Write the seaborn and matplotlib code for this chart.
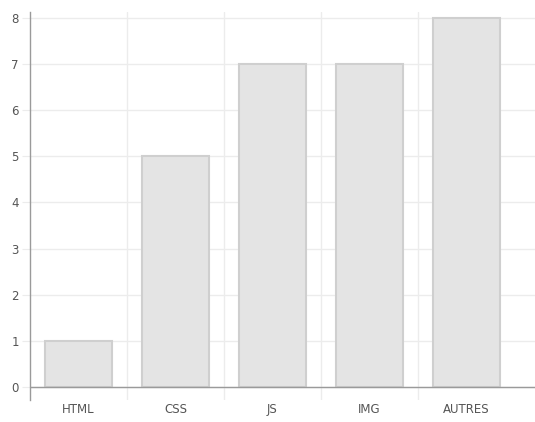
import matplotlib
matplotlib.use('Agg')
import matplotlib.pyplot as plt
import seaborn as sns
import pandas as pd

# Data
categories = ['HTML', 'CSS', 'JS', 'IMG', 'AUTRES']
values = [1, 5, 7, 7, 8]
y_ticks = [0, 1, 2, 3, 4, 5, 6, 7, 8]

df = pd.DataFrame({'type': categories, 'count': values})

sns.set_style('white')
plt.rcParams['font.family'] = ['DejaVu Sans']

fig = plt.figure(figsize=(5.35, 4.22), dpi=100)
ax = fig.add_axes([30 / 535, 1 - 400 / 422, 505 / 535, 388 / 422])

sns.barplot(data=df, x='type', y='count', color='#e4e4e4', saturation=1,
            edgecolor='#cfcfcf', linewidth=1.5, width=0.7, ax=ax, zorder=3)

# horizontal grid at each integer
for t in y_ticks:
    ax.axhline(t, color='#ececec', lw=1, zorder=1)
# vertical separators between categories
for b in [0.5, 1.5, 2.5, 3.5]:
    ax.axvline(b, color='#ececec', lw=1, zorder=1)
# base line
ax.axhline(0, color='#9a9a9a', lw=1, zorder=4)

ax.set_xlim(-0.5, 4.5 + 20 / 97)
ax.set_ylim(-13 / 46.1, 8 + 6 / 46.1)
ax.set_yticks(y_ticks)
ax.set_xlabel('')
ax.set_ylabel('')

for s in ['top', 'right', 'bottom']:
    ax.spines[s].set_visible(False)
ax.spines['left'].set_color('#9a9a9a')
ax.spines['left'].set_linewidth(1)

ax.tick_params(axis='y', length=6, color='#ececec', labelsize=8.5,
               labelcolor='#555555', pad=2, left=True)
ax.tick_params(axis='x', length=0, labelsize=8.5, labelcolor='#555555', pad=2)

fig.savefig('out.png', dpi=100)
